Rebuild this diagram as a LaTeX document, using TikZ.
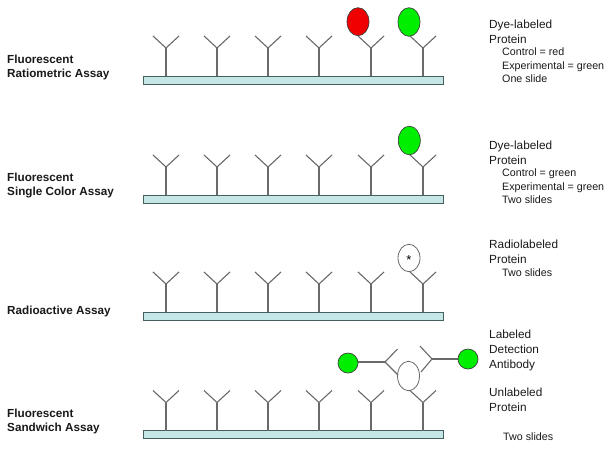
\documentclass[tikz,border=0pt]{standalone}
\usepackage{fontspec}
\setmainfont{Liberation Sans}
\definecolor{barfill}{RGB}{196,230,230}
\definecolor{barline}{RGB}{70,95,95}
\definecolor{abgray}{RGB}{105,105,105}
\definecolor{dyegreen}{RGB}{0,238,0}
\definecolor{dyered}{RGB}{240,0,0}
\definecolor{txt}{RGB}{25,25,25}
\begin{document}
\begin{tikzpicture}[x=1pt,y=-1pt,
  slide/.style={draw=barline, fill=barfill, line width=0.7pt},
  abline/.style={draw=abgray, line width=1.1pt},
  dye/.style={draw=black!75, line width=0.7pt},
  prot/.style={draw=abgray, fill=white, line width=0.8pt},
  title/.style={font=\fontsize{11.7}{14}\selectfont\bfseries, anchor=base west, inner sep=0pt, text=txt},
  desc/.style={font=\fontsize{11.8}{14}\selectfont, anchor=base west, inner sep=0pt, text=txt},
  subdesc/.style={font=\fontsize{10.7}{13}\selectfont, anchor=base west, inner sep=0pt, text=txt}]
\useasboundingbox (0,0) rectangle (612,448);

% slides with capture antibodies
\foreach \yb/\nm in {76/a,195/b,312/c,430.5/d}{
  \draw[slide] (143,\yb) rectangle (443,\yb+8);
  \foreach \xs in {166,217,268,319,371,423}{
    \draw[abline] (\xs,\yb) -- (\xs,\yb-28);
    \draw[abline] (\xs-13,\yb-40) -- (\xs,\yb-28) -- (\xs+13,\yb-40);
  }
}

% row 1: dye labeled proteins
\draw[dye, fill=dyered] (358,21.7) ellipse [x radius=11pt, y radius=14pt];
\draw[dye, fill=dyegreen] (409,22) ellipse [x radius=11pt, y radius=14.3pt];

% row 2
\draw[dye, fill=dyegreen] (409.3,140.5) ellipse [x radius=11pt, y radius=14.3pt];

% row 3: radiolabeled
\draw[prot] (409,258) ellipse [x radius=11pt, y radius=13.7pt];
\node[font=\fontsize{13}{14}\selectfont, inner sep=0pt] (star) at (409,260) {*};

% row 4: sandwich
\coordinate (ldA) at (385,362);
\coordinate (rdA) at (432,359);
\draw[abline] (358,362) -- (ldA);
\draw[abline] (397.5,349) -- (ldA) -- (398,375);
\draw[abline] (rdA) -- (458,359);
\draw[abline] (420,346) -- (rdA) -- (421,372);
\draw[prot, fill=none] (408.5,376) ellipse [x radius=11pt, y radius=14.7pt];
\node[circle, dye, fill=dyegreen, minimum size=20pt, inner sep=0pt] (g1) at (348,363) {};
\node[circle, dye, fill=dyegreen, minimum size=20pt, inner sep=0pt] (g2) at (468,359) {};

% left titles
\node[title] (t1a) at (7,63.3) {Fluorescent};
\node[title] (t1b) at (7,77.3) {Ratiometric Assay};
\node[title] (t2a) at (7,181.5) {Fluorescent};
\node[title] (t2b) at (7,195.5) {Single Color Assay};
\node[title] (t3a) at (7,314) {Radioactive Assay};
\node[title] (t4a) at (7,417.3) {Fluorescent};
\node[title] (t4b) at (7,431.5) {Sandwich Assay};

% right descriptions
\node[desc] (d1a) at (489,28.3) {Dye-labeled};
\node[desc] (d1b) at (489,43.3) {Protein};
\node[subdesc] (d1c) at (502,55.7) {Control = red};
\node[subdesc] (d1d) at (502,69.3) {Experimental = green};
\node[subdesc] (d1e) at (502,82.7) {One slide};

\node[desc] (d2a) at (489,149) {Dye-labeled};
\node[desc] (d2b) at (489,164) {Protein};
\node[subdesc] (d2c) at (502,176.5) {Control = green};
\node[subdesc] (d2d) at (502,190) {Experimental = green};
\node[subdesc] (d2e) at (502,203) {Two slides};

\node[desc] (d3a) at (489,248.3) {Radiolabeled};
\node[desc] (d3b) at (489,263.3) {Protein};
\node[subdesc] (d3c) at (502,276.7) {Two slides};

\node[desc] (d4a) at (489,338.3) {Labeled};
\node[desc] (d4b) at (489,353.5) {Detection};
\node[desc] (d4c) at (489,368.3) {Antibody};
\node[desc] (d4d) at (489,396.7) {Unlabeled};
\node[desc] (d4e) at (489,411.7) {Protein};
\node[subdesc] (d4f) at (503,440.7) {Two slides};
\end{tikzpicture}
\end{document}
